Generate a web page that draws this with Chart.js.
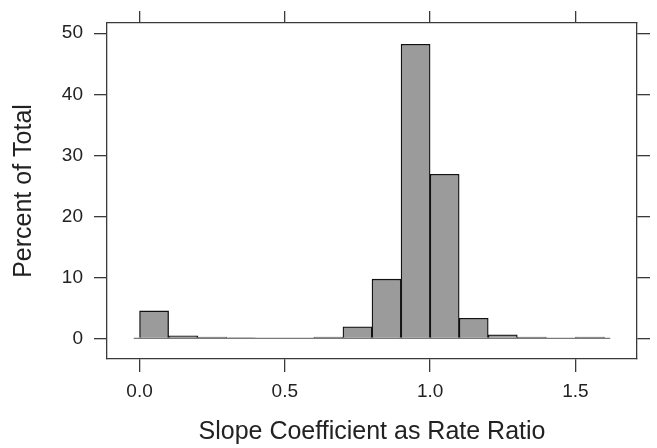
<!DOCTYPE html>
<html>
<head>
<meta charset="utf-8">
<title>Slope Coefficient as Rate Ratio</title>
<script src="https://cdn.jsdelivr.net/npm/chart.js@4/dist/chart.umd.min.js"></script>
<style>
  html, body { margin: 0; padding: 0; background: #fff; }
  #wrap { width: 657px; height: 448px; position: relative; }
</style>
</head>
<body>
<div id="wrap"><canvas id="hist"></canvas></div>
<script>
// Histogram bins (midpoints) and percent of total in each bin
const binMids = [0.05, 0.15, 0.25, 0.35, 0.45, 0.55, 0.65, 0.75, 0.85, 0.95, 1.05, 1.15, 1.25, 1.35, 1.45, 1.55];
const percents = [4.5, 0.4, 0.2, 0.1, 0, 0, 0.2, 1.9, 9.7, 48.2, 26.9, 3.3, 0.6, 0.2, 0, 0.2];

// Tick labels
const xTicks = [0.0, 0.5, 1.0, 1.5];
const yTicks = [0, 10, 20, 30, 40, 50];

// Axis limits (lattice style padding)
const xMin = -0.112, xMax = 1.712;
const yMin = -3.38, yMax = 51.68;

// Reference line at zero
const refLineX = [-0.02, 1.62];

const ink = '#222';
const frame = '#3a3a3a';
const fontName = '"Liberation Sans", Arial, Helvetica, sans-serif';

function fixTicks(values) {
    return function(scale) {
        scale.ticks = values.map(v => ({ value: v }));
    };
}

function fixSize(prop, size) {
    return function(scale) {
        scale[prop] = size;
    };
}

const edgeGrid = {
    display: true,
    offset: false,
    drawOnChartArea: false,
    drawTicks: true,
    tickLength: 13,
    tickColor: frame,
    lineWidth: 1.3
};
const edgeBorder = { display: true, color: frame, width: 1.3 };

const ctx = document.getElementById('hist').getContext('2d');
new Chart(ctx, {
    data: {
        datasets: [
            {
                type: 'bar',
                data: binMids.map((m, i) => ({ x: m, y: percents[i] })),
                backgroundColor: '#9b9b9b',
                borderColor: '#111',
                borderWidth: 1.3,
                barPercentage: 1,
                categoryPercentage: 1,
                order: 1
            },
            {
                type: 'line',
                data: refLineX.map(x => ({ x: x, y: 0 })),
                borderColor: '#7a7a7a',
                borderWidth: 1.3,
                pointRadius: 0,
                order: 2
            }
        ]
    },
    options: {
        responsive: true,
        maintainAspectRatio: false,
        animation: false,
        layout: { padding: 0 },
        plugins: {
            legend: { display: false },
            tooltip: { enabled: false }
        },
        scales: {
            x: {
                type: 'linear',
                position: 'bottom',
                offset: false,
                min: xMin,
                max: xMax,
                afterBuildTicks: fixTicks(xTicks),
                afterFit: fixSize('height', 89),
                grid: edgeGrid,
                border: edgeBorder,
                ticks: {
                    color: ink,
                    padding: 8,
                    maxRotation: 0,
                    font: { family: fontName, size: 19 },
                    callback: v => Number(v).toFixed(1)
                },
                title: {
                    display: true,
                    text: 'Slope Coefficient as Rate Ratio',
                    color: ink,
                    font: { family: fontName, size: 25 },
                    padding: { top: 0, bottom: 1 }
                }
            },
            x2: {
                type: 'linear',
                position: 'top',
                offset: false,
                min: xMin,
                max: xMax,
                afterBuildTicks: fixTicks(xTicks),
                afterFit: fixSize('height', 23),
                grid: Object.assign({}, edgeGrid, { tickLength: 12 }),
                border: edgeBorder,
                ticks: { display: false }
            },
            y: {
                type: 'linear',
                position: 'left',
                min: yMin,
                max: yMax,
                afterBuildTicks: fixTicks(yTicks),
                afterFit: fixSize('width', 107),
                grid: edgeGrid,
                border: edgeBorder,
                ticks: {
                    color: ink,
                    padding: 11,
                    font: { family: fontName, size: 19 }
                },
                title: {
                    display: true,
                    text: 'Percent of Total',
                    color: ink,
                    font: { family: fontName, size: 25 },
                    padding: { top: 9, bottom: 0 }
                }
            },
            y2: {
                type: 'linear',
                position: 'right',
                min: yMin,
                max: yMax,
                afterBuildTicks: fixTicks(yTicks),
                afterFit: fixSize('width', 20),
                grid: edgeGrid,
                border: edgeBorder,
                ticks: { display: false }
            }
        }
    }
});
</script>
</body>
</html>
